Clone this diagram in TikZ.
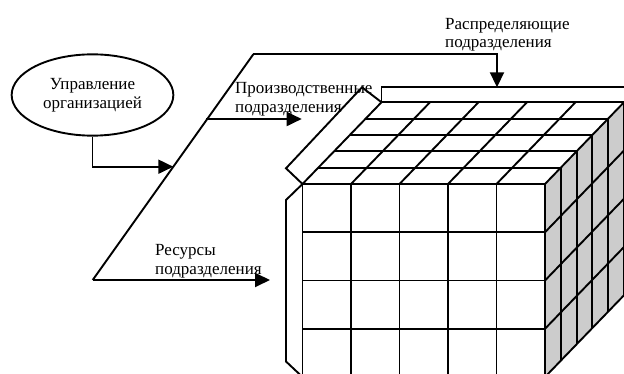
\documentclass[tikz,border=0pt]{standalone}
\usepackage{fontspec}
\setmainfont{Liberation Serif}
\usetikzlibrary{arrows.meta,shapes.geometric}
\begin{document}
\begin{tikzpicture}[x=1pt,y=-1pt,
  ln/.style={line width=1.9pt, line join=miter},
  arr/.style={ln,-{Triangle[length=15pt,width=14pt]}},
  txt/.style={font=\fontsize{17}{18.8}\selectfont, inner sep=0pt},
  lbl/.style={txt, align=left, anchor=base west},
  sideface/.style={fill=gray!40}
]
\useasboundingbox (0,0) rectangle (624,374);
\begin{scope}
\clip (0,0) rectangle (624,374);
% ---- cube ----
\def\xo{302.5}\def\yo{184}\def\cw{48.5}\def\ch{48.25}\def\dx{15.8}\def\dy{-16.35}
\fill[sideface] (545,184) -- ++(5*\dx,5*\dy) -- ++(0,4*\ch) -- (545,377) -- cycle;
\fill[white] (\xo,\yo) -- ++(5*\dx,5*\dy) -- ++(5*\cw,0) -- (545,184) -- cycle;
% front face
\foreach \i in {0,...,5} \draw[ln] (\xo+\i*\cw,\yo) -- (\xo+\i*\cw,\yo+4*\ch);
\foreach \j in {0,...,4} \draw[ln] (\xo,\yo+\j*\ch) -- (\xo+5*\cw,\yo+\j*\ch);
% top face
\foreach \k in {1,...,5} \draw[ln] (\xo+\k*\dx,\yo+\k*\dy) -- (\xo+5*\cw+\k*\dx,\yo+\k*\dy);
\foreach \i in {0,...,5} \draw[ln] (\xo+\i*\cw,\yo) -- ++(5*\dx,5*\dy);
% right face
\foreach \k in {1,...,5} \draw[ln] (545+\k*\dx,\yo+\k*\dy) -- (545+\k*\dx,\yo+4*\ch+\k*\dy);
\foreach \j in {1,...,4} \draw[ln] (545,\yo+\j*\ch) -- ++(5*\dx,5*\dy);
% ---- brackets ----
\coordinate (ftl) at (302.5,184);
\coordinate (btl) at (381.5,102.25);
\coordinate (fbl) at (302.5,377);
\draw[ln] (ftl) -- (286,168.3) -- (362,87.3) -- (btl);
\draw[ln] (ftl) -- (286,200) -- (286,361.5) -- (fbl);
\draw[ln] (btl) -- (381.5,87.3) coordinate (tbr) -- (660,87.3);
\end{scope}
% ---- labels ----
\node[ellipse, draw, ln, minimum width=161.7pt, minimum height=81.3pt,
  align=center, txt] (org) at (92.5,95) {Управление\\организацией};
\node[lbl] (prod) at (235,112.3) {Производственные\\подразделения};
\node[lbl] (dist) at (445,48) {Распределяющие\\подразделения};
\node[lbl] (res) at (155,274.3) {Ресурсы\\подразделения};
% ---- connectors ----
\coordinate (pb) at (92.7,280);
\coordinate (pt) at (253.3,54.3);
\coordinate (dtop) at (497,87.3);
\coordinate (resend) at (270,280);
\coordinate (prodstart) at (206,119);
\coordinate (prodend) at (301.7,119);
\coordinate (orgend) at (173.3,166.7);
\draw[ln] (pb) -- (pt);
\draw[arr] (pt) -- (pt -| dtop) -- (dtop);
\draw[arr] (pb) -- (resend);
\draw[arr] (prodstart) -- (prodend);
\draw[arr] (org.south) |- (orgend);
\end{tikzpicture}
\end{document}
